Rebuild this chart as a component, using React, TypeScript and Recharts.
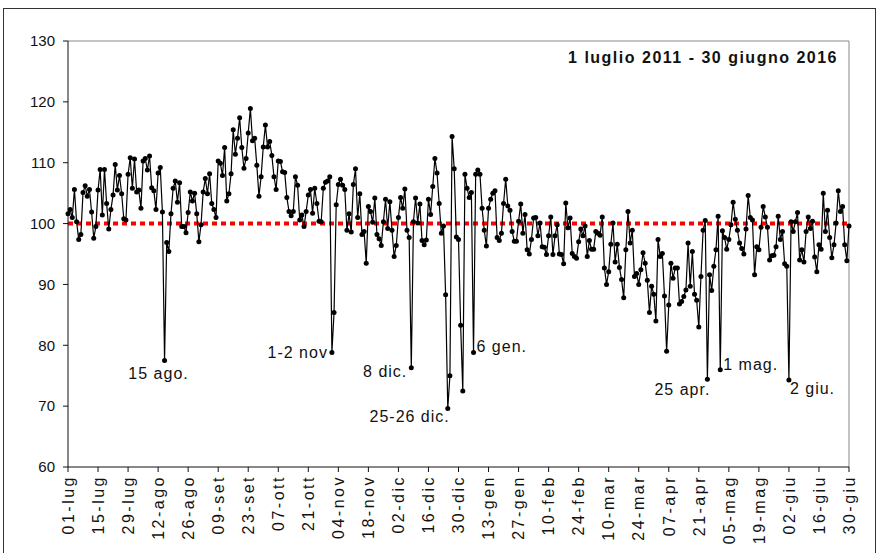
import { LineChart, Line, XAxis, YAxis, ReferenceLine, LabelList } from "recharts";

// calendar: 1 July -> 30 June
const MONTHS = ["lug", "ago", "set", "ott", "nov", "dic", "gen", "feb", "mar", "apr", "mag", "giu"];
const MONTH_DAYS = [31, 31, 30, 31, 30, 31, 31, 28, 31, 30, 31, 30];

const TICK_LABELS = [
  "01-lug", "15-lug", "29-lug", "12-ago", "26-ago", "09-set", "23-set", "07-ott", "21-ott",
  "04-nov", "18-nov", "02-dic", "16-dic", "30-dic", "13-gen", "27-gen", "10-feb", "24-feb",
  "10-mar", "24-mar", "07-apr", "21-apr", "05-mag", "19-mag", "02-giu", "16-giu", "30-giu",
];

// daily index, one value per day
const VALUES = [
  // lug
  101.6, 102.3, 101.0, 105.6, 100.3, 97.4, 98.2, 105.1, 106.2, 104.5,
  105.6, 101.9, 97.6, 99.5, 105.5, 108.9, 101.4, 108.9, 103.3, 99.1,
  102.3, 104.7, 109.7, 105.5, 107.9, 104.9, 100.8, 100.6, 108.1, 110.8,
  105.8,
  // ago
  110.6, 105.2, 105.5, 102.5, 110.3, 110.7, 108.8, 111.1, 105.9, 105.4,
  102.3, 108.3, 109.2, 101.9, 77.5, 96.9, 95.4, 101.6, 105.8, 107.0,
  103.5, 106.7, 99.5, 99.5, 98.5, 101.8, 105.2, 103.7, 105.0, 101.6,
  97.0,
  // set
  99.8, 105.2, 107.4, 104.9, 108.2, 103.3, 102.3, 101.0, 110.3, 109.9,
  107.9, 112.5, 103.7, 104.9, 108.2, 115.4, 111.4, 114.0, 117.4, 112.5,
  109.1, 110.7, 114.9, 118.9, 113.6, 114.0, 109.6, 104.5, 107.7, 112.6,
  // ott
  116.2, 112.6, 113.5, 111.2, 107.7, 105.6, 110.3, 110.2, 108.5, 108.4,
  104.3, 102.0, 101.3, 102.0, 107.7, 106.3, 100.6, 101.4, 99.5, 102.0,
  104.7, 105.6, 101.7, 105.8, 103.3, 100.4, 100.3, 105.8, 106.8, 107.0,
  107.7,
  // nov
  78.8, 85.4, 103.1, 106.4, 107.3, 106.3, 105.6, 98.9, 101.6, 98.6,
  106.4, 109.0, 101.0, 104.9, 98.2, 98.7, 93.5, 102.8, 102.0, 100.2,
  104.2, 98.2, 97.5, 96.4, 100.3, 104.0, 99.2, 103.6, 98.9, 94.6,
  // dic
  96.4, 101.0, 104.3, 102.5, 105.7, 98.9, 97.7, 76.3, 100.3, 104.2,
  100.1, 103.2, 97.2, 96.5, 97.3, 104.0, 101.5, 106.1, 110.7, 108.3,
  103.3, 98.4, 99.6, 88.3, 69.6, 75.0, 114.3, 109.0, 97.8, 97.4,
  83.3,
  // gen
  72.5, 108.1, 105.8, 104.3, 105.1, 78.8, 108.1, 108.8, 108.1, 102.5,
  98.9, 96.3, 102.5, 104.0, 105.0, 105.4, 97.7, 97.2, 98.4, 103.3,
  107.3, 102.9, 102.2, 98.7, 97.1, 97.1, 100.4, 103.2, 98.4, 101.5,
  95.7,
  // feb
  95.0, 97.4, 100.9, 101.0, 98.0, 100.1, 96.2, 96.1, 94.9, 98.0,
  101.1, 94.9, 98.0, 99.8, 95.0, 94.9, 93.4, 103.4, 99.3, 100.9,
  95.1, 94.6, 94.3, 97.0, 99.1, 98.0, 99.6, 94.6,
  // mar
  97.2, 95.8, 95.8, 98.7, 98.4, 98.1, 101.1, 92.7, 90.0, 92.1,
  96.6, 100.1, 93.7, 96.6, 92.8, 90.8, 87.8, 95.7, 102.0, 96.8,
  98.9, 91.3, 91.8, 90.0, 92.4, 95.2, 93.5, 90.7, 85.4, 89.7,
  88.4,
  // apr
  84.0, 97.4, 94.6, 95.1, 88.1, 79.0, 86.6, 93.5, 91.0, 92.7,
  92.7, 86.8, 87.2, 88.0, 89.1, 96.8, 89.7, 95.4, 88.4, 87.4,
  83.0, 91.3, 98.9, 100.5, 74.4, 91.6, 89.0, 93.0, 95.7, 101.2,
  // mag
  76.0, 98.8, 97.7, 95.8, 97.4, 99.8, 103.5, 100.7, 98.9, 96.8,
  95.9, 95.0, 99.1, 104.6, 101.0, 100.6, 91.6, 96.2, 95.7, 99.4,
  102.8, 101.1, 99.4, 94.0, 94.7, 94.8, 96.2, 101.2, 97.4, 98.7,
  93.4,
  // giu
  93.0, 74.3, 100.3, 98.7, 100.3, 101.8, 94.0, 95.7, 93.7, 98.7,
  101.1, 99.2, 100.4, 94.5, 92.1, 96.5, 95.8, 105.0, 98.7, 102.2,
  97.7, 94.4, 96.5, 100.1, 105.4, 102.0, 102.8, 96.5, 93.9, 99.6,
];

const Y_TICKS = [60, 70, 80, 90, 100, 110, 120, 130];

// notes on the deepest dips: day label, text, offset from the point
const NOTES = [
  { day: "15-ago", text: "15 ago.", dx: -6, dy: 18, anchor: "middle" },
  { day: "01-nov", text: "1-2 nov", dx: -4, dy: 5, anchor: "end" },
  { day: "08-dic", text: "8 dic.", dx: -4, dy: 9, anchor: "end" },
  { day: "25-dic", text: "25-26 dic.", dx: 2, dy: 13, anchor: "end" },
  { day: "06-gen", text: "6 gen.", dx: 3, dy: -1, anchor: "start" },
  { day: "25-apr", text: "25 apr.", dx: 3, dy: 16, anchor: "end" },
  { day: "01-mag", text: "1 mag.", dx: 3, dy: 0, anchor: "start" },
  { day: "02-giu", text: "2 giu.", dx: 1, dy: 14, anchor: "start" },
];

const days: string[] = [];
MONTHS.forEach((m, mi) => {
  for (let d = 1; d <= MONTH_DAYS[mi]; d++) days.push(`${String(d).padStart(2, "0")}-${m}`);
});

const data = days.map((day, i) => ({ idx: i, day, value: VALUES[i] }));
const xTicks = TICK_LABELS.map((t) => days.indexOf(t));

const FONT = "'Liberation Sans', Arial, Helvetica, sans-serif";

const XTick = ({ x, y, payload }: any) => (
  <text
    x={x}
    y={y}
    dy="0.36em"
    transform={`rotate(-90, ${x}, ${y})`}
    textAnchor="end"
    fontSize={16}
    letterSpacing={2.5}
    fontFamily={FONT}
    fill="#111"
  >
    {days[payload.value]}
  </text>
);

const NoteLabel = (props: any) => {
  const { x, y, index } = props;
  const note = NOTES.find((n) => days.indexOf(n.day) === index);
  if (!note) return null;
  return (
    <text
      x={x + note.dx}
      y={y + note.dy}
      textAnchor={note.anchor}
      fontSize={16}
      letterSpacing={1}
      fontFamily={FONT}
      fill="#111"
    >
      {note.text}
    </text>
  );
};

export default function App() {
  return (
    <div
      style={{
        position: "fixed",
        left: 0,
        top: 0,
        width: 877,
        height: 553,
        background: "#fff",
        overflow: "hidden",
      }}
    >
      <div
        style={{
          position: "absolute",
          left: 3,
          top: 8,
          width: 871,
          height: 560,
          border: "1px solid #333",
        }}
      />
      <LineChart
        width={877}
        height={553}
        data={data}
        margin={{ top: 41, right: 28, left: 0, bottom: 0 }}
        style={{ position: "absolute", left: 0, top: 0 }}
      >
        <XAxis
          dataKey="idx"
          type="number"
          domain={[0, 364]}
          ticks={xTicks}
          interval={0}
          height={86}
          tickSize={5}
          tickMargin={3}
          tick={<XTick />}
          axisLine={{ stroke: "#111" }}
          tickLine={{ stroke: "#111" }}
        />
        <YAxis
          domain={[60, 130]}
          ticks={Y_TICKS}
          width={68}
          tickSize={5}
          tickMargin={8}
          interval={0}
          tick={{ fontSize: 15, fontFamily: FONT, fill: "#111" }}
          axisLine={{ stroke: "#111" }}
          tickLine={{ stroke: "#111" }}
        />
        <ReferenceLine y={130} stroke="#888" />
        <ReferenceLine x={364} stroke="#888" />
        <ReferenceLine y={100} stroke="#ff0000" strokeWidth={4} strokeDasharray="5 4" />
        <Line
          type="linear"
          dataKey="value"
          stroke="#000"
          strokeWidth={1.2}
          dot={{ r: 2.5, fill: "#000", stroke: "#000", strokeWidth: 0 }}
          isAnimationActive={false}
        >
          <LabelList dataKey="value" content={<NoteLabel />} />
        </Line>
      </LineChart>
      <div
        style={{
          position: "absolute",
          left: 0,
          top: 50,
          width: 838,
          textAlign: "right",
          fontFamily: FONT,
          fontWeight: "bold",
          fontSize: 16,
          lineHeight: "16px",
          letterSpacing: 1.5,
          color: "#111",
        }}
      >
        1 luglio 2011 - 30 giugno 2016
      </div>
    </div>
  );
}
